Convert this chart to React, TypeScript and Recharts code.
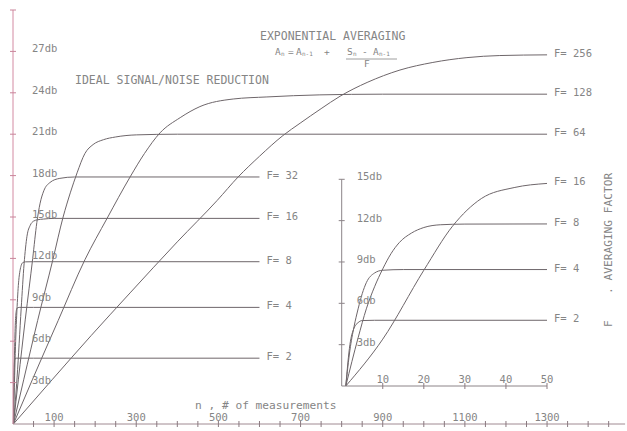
import React from 'react';
import { LineChart, Line, XAxis, YAxis } from 'recharts';

// readings taken off the plot: [n, dB improvement]
const f2 = [[1, 0], [2, 3.0], [3, 4.2], [4, 4.6], [5, 4.75], [8, 4.77], [50, 4.77], [600, 4.77]];
const f4 = [[1, 0], [2, 2.6], [3, 4.3], [4, 5.6], [5, 6.7], [6, 7.5], [8, 8.2], [10, 8.4], [15, 8.45], [50, 8.45], [600, 8.45]];
const f8 = [[1, 0], [4, 3.5], [6, 5.6], [8, 7.2], [10, 8.5], [12, 9.6], [14, 10.4], [17, 11.1], [20, 11.5], [24, 11.7], [30, 11.75], [50, 11.76], [600, 11.76]];
const f16 = [[1, 0], [10, 3.4], [20, 8.4], [27, 11.6], [34, 13.6], [42, 14.4], [50, 14.7], [60, 14.8], [74, 14.85], [100, 14.9], [600, 14.9]];
const f32 = [[1, 0], [13, 3.2], [30, 7.6], [48, 12.0], [58, 14.6], [66, 16.0], [75, 16.9], [90, 17.5], [114, 17.8], [150, 17.9], [600, 17.9]];
const f64 = [[1, 0], [26, 3.2], [60, 7.5], [97, 11.9], [122, 15.0], [140, 16.8], [156, 18.2], [175, 19.6], [195, 20.25], [220, 20.6], [250, 20.8], [300, 20.95], [400, 21.0], [1300, 21.0]];
const f128 = [[1, 0], [47, 3.2], [110, 7.5], [175, 11.9], [229, 14.9], [285, 17.9], [320, 19.6], [358, 21.1], [407, 22.2], [455, 23.0], [536, 23.55], [618, 23.7], [747, 23.85], [900, 23.9], [1300, 23.9]];
const f256 = [[1, 0], [95, 3.2], [190, 6.4], [285, 9.5], [400, 13.2], [497, 16.2], [548, 17.9], [600, 19.4], [657, 20.9], [699, 21.8], [750, 22.85], [796, 23.75], [830, 24.3], [862, 24.75], [942, 25.65], [1022, 26.2], [1105, 26.55], [1185, 26.7], [1300, 26.75]];

const mainSeries = [f2, f4, f8, f16, f32, f64, f128, f256];
const mainFactors = ['2', '4', '8', '16', '32', '64', '128', '256'];
const insetSeries = [f2, f4, f8, f16];
const insetFactors = ['2', '4', '8', '16'];

const dbTicks = [3, 6, 9, 12, 15, 18, 21, 24, 27, 30];
const dbLabels = ['3db', '6db', '9db', '12db', '15db', '18db', '21db', '24db', '27db', ''];
const nTicks = [50, 100, 150, 200, 250, 300, 350, 400, 450, 500, 550, 600, 650, 700, 750, 800, 850, 900, 950, 1000, 1050, 1100, 1150, 1200, 1250, 1300, 1350, 1400, 1450];
const nLabels = [100, 300, 500, 700, 900, 1100, 1300];

const insetDbTicks = [3, 6, 9, 12, 15];
const insetDbLabels = ['3db', '6db', '9db', '12db', '15db'];
const insetNTicks = [10, 20, 30, 40, 50];
const insetNLimit = 50;

const FONT = "'DejaVu Sans Mono', monospace";
const TEXT = '#858585';
const CURVE = '#6e666a';

const pts = (a: number[][]) => a.map(([n, db]) => ({ n, db }));

const makeYTick = (ticks: number[], labels: string[], dx: number, stroke: string) => (p: any) => {
  const i = ticks.indexOf(p.payload.value);
  return (
    <g>
      <line x1={p.x - 3} x2={p.x + 3} y1={p.y} y2={p.y} stroke={stroke} />
      <text x={p.x + dx} y={p.y + 1} fill={TEXT} stroke="none" fontSize={10.5} fontFamily={FONT}>{labels[i]}</text>
    </g>
  );
};

const makeXTick = (labels: number[]) => (p: any) => (
  <g>
    <line x1={p.x} x2={p.x} y1={p.y - 3} y2={p.y + 3} stroke="#8a7a80" />
    {labels.includes(p.payload.value) && (
      <text x={p.x} y={p.y - 3} textAnchor="middle" fill={TEXT} stroke="none" fontSize={10.5} fontFamily={FONT}>{p.payload.value}</text>
    )}
  </g>
);

const endLabel = (f: string, count: number) => (p: any) =>
  p.index === count - 1 ? (
    <text x={p.x + 7} y={p.y + 2} fill={TEXT} stroke="none" fontSize={10.5} fontFamily={FONT}>{`F= ${f}`}</text>
  ) : <g />;

const abs: React.CSSProperties = { position: 'absolute', left: 0, top: 0 };

export default function App() {
  return (
    <div style={{ ...abs, width: 627, height: 431, overflow: 'hidden', background: '#fff' }}>
      <div style={abs}>
        <LineChart width={627} height={431} margin={{ top: 10, right: 1.9, bottom: 6, left: 12 }}>
          <XAxis type="number" dataKey="n" domain={[0, 1490]} ticks={nTicks} height={1} tickSize={0} tickMargin={0}
            axisLine={{ stroke: '#a08a92' }} tickLine={false} tick={makeXTick(nLabels)} interval={0} />
          <YAxis type="number" domain={[0, 30]} ticks={dbTicks} width={1} tickSize={0} tickMargin={0}
            axisLine={{ stroke: '#d38aa2' }} tickLine={false} tick={makeYTick(dbTicks, dbLabels, 19, '#c9849a')} interval={0} />
          {mainSeries.map((s, i) => (
            <Line key={mainFactors[i]} data={pts(s)} dataKey="db" type="monotone" stroke={CURVE} strokeWidth={1}
              dot={false} isAnimationActive={false} label={endLabel(mainFactors[i], s.length)} />
          ))}
        </LineChart>
      </div>
      <div style={abs}>
        <LineChart width={627} height={431} margin={{ top: 179.3, right: 80, bottom: 44, left: 340.7 }}>
          <XAxis type="number" dataKey="n" domain={[0, 50]} ticks={insetNTicks} height={1} tickSize={0} tickMargin={0}
            axisLine={{ stroke: '#8c8488' }} tickLine={false} tick={makeXTick(insetNTicks)} interval={0} />
          <YAxis type="number" domain={[0, 15]} ticks={insetDbTicks} width={1} tickSize={0} tickMargin={0}
            axisLine={{ stroke: '#8c8488' }} tickLine={false} tick={makeYTick(insetDbTicks, insetDbLabels, 15, '#8c8488')} interval={0} />
          {insetSeries.map((s, i) => {
            const d = pts(s).filter((p) => p.n <= insetNLimit);
            return (
              <Line key={insetFactors[i]} data={d} dataKey="db" type="monotone" stroke={CURVE} strokeWidth={1}
                dot={false} isAnimationActive={false} label={endLabel(insetFactors[i], d.length)} />
            );
          })}
        </LineChart>
      </div>
      <svg width={627} height={431} style={{ ...abs, pointerEvents: 'none' }} fontFamily={FONT} fill={TEXT}>
        <text x={260} y={39.5} fontSize={11.5}>EXPONENTIAL AVERAGING</text>
        <g fontSize={9.5}>
          <text x={275} y={55}>A</text>
          <text x={281} y={56} fontSize={6}>n</text>
          <text x={288} y={55}>=</text>
          <text x={296} y={55}>A</text>
          <text x={302} y={56} fontSize={6}>n-1</text>
          <text x={324} y={55}>+</text>
          <text x={347} y={55}>S</text>
          <text x={353} y={56} fontSize={6}>n</text>
          <text x={362} y={55}>-</text>
          <text x={373} y={55}>A</text>
          <text x={379} y={56} fontSize={6}>n-1</text>
          <line x1={346} x2={397} y1={59} y2={59} stroke={TEXT} strokeWidth={0.8} />
          <text x={364} y={67}>F</text>
        </g>
        <text x={75} y={83.5} fontSize={11.5}>IDEAL SIGNAL/NOISE REDUCTION</text>
        <text x={195} y={408.5} fontSize={11.2}>n , # of measurements</text>
        <text x={612} y={294} fontSize={11.2} transform="rotate(-90 612 294)">. AVERAGING FACTOR</text>
        <text x={612} y={327} fontSize={11.2} transform="rotate(-90 612 327)">F</text>
      </svg>
    </div>
  );
}
